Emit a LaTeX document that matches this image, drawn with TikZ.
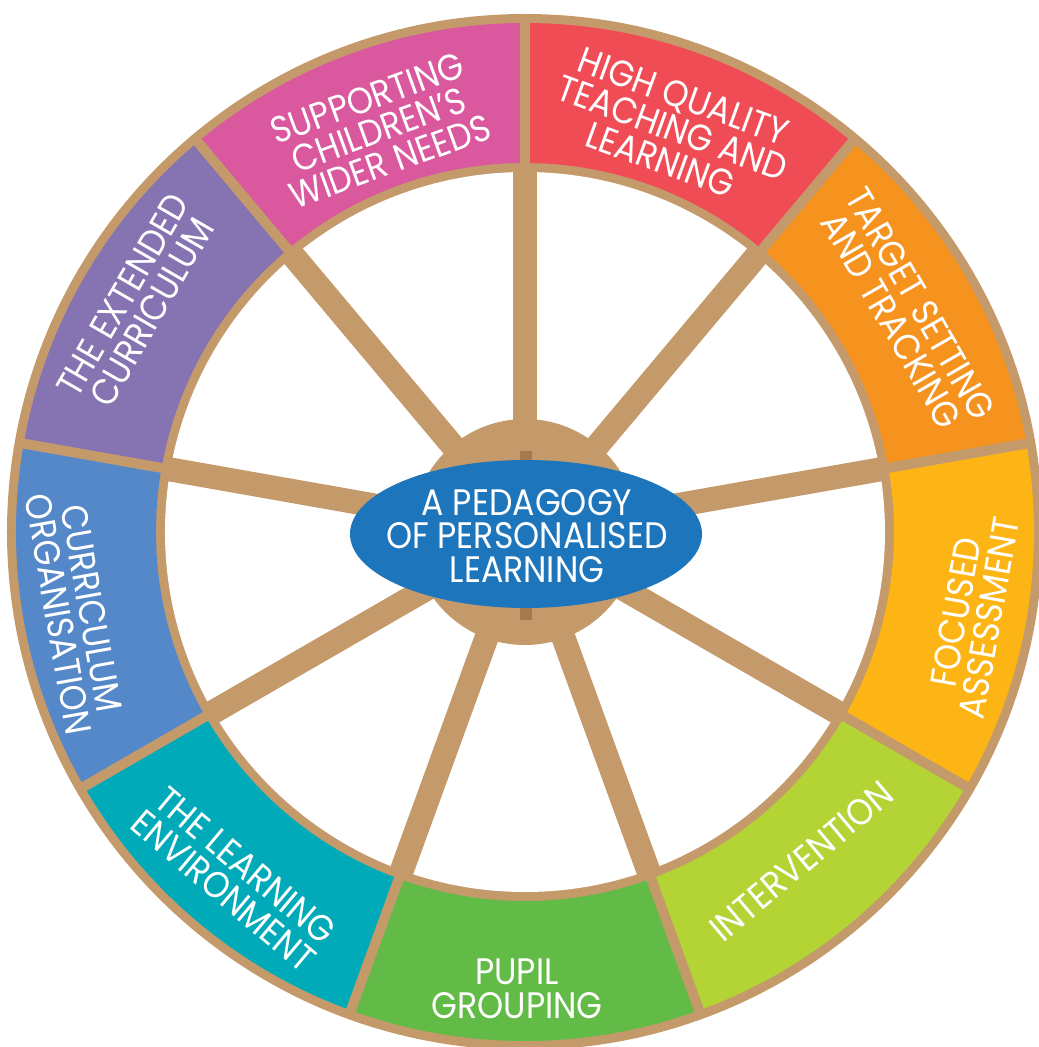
\documentclass[tikz,border=0pt]{standalone}
\usepackage{fontspec}
\setmainfont{Poppins}[FakeStretch=0.9]
\definecolor{wheeltan}{HTML}{C59A6B}
\definecolor{hubmark}{HTML}{A67A4E}
\definecolor{coreblue}{HTML}{1D75BC}
\definecolor{qualityred}{HTML}{EF4C55}
\definecolor{targetorange}{HTML}{F6921E}
\definecolor{focusyellow}{HTML}{FDB515}
\definecolor{interlime}{HTML}{B4D334}
\definecolor{pupilgreen}{HTML}{62BA47}
\definecolor{envteal}{HTML}{00AAB9}
\definecolor{orgblue}{HTML}{5588C8}
\definecolor{extpurple}{HTML}{8673B1}
\definecolor{needspink}{HTML}{D9589E}
\tikzset{
    rim/.style={wheeltan, line width=0.2cm},
    spoke/.style={wheeltan, line width=0.48cm},
    seglabel/.style={text=white, align=center, inner sep=0pt,
        font=\fontsize{21}{19.2}\selectfont}
}

\begin{document}
\begin{tikzpicture}[scale=0.02]
\useasboundingbox (-525,-515) rectangle (514,532);

\fill[wheeltan] (0,0) circle [radius=518];

% coloured segments
\fill[qualityred] (50:369) arc [start angle=50, end angle=90, radius=369] -- (90:509) arc [start angle=90, end angle=50, radius=509] -- cycle;
\fill[targetorange] (10:369) arc [start angle=10, end angle=50, radius=369] -- (50:509) arc [start angle=50, end angle=10, radius=509] -- cycle;
\fill[focusyellow] (-30:369) arc [start angle=-30, end angle=10, radius=369] -- (10:509) arc [start angle=10, end angle=-30, radius=509] -- cycle;
\fill[interlime] (-70:369) arc [start angle=-70, end angle=-30, radius=369] -- (-30:509) arc [start angle=-30, end angle=-70, radius=509] -- cycle;
\fill[pupilgreen] (-110:369) arc [start angle=-110, end angle=-70, radius=369] -- (-70:509) arc [start angle=-70, end angle=-110, radius=509] -- cycle;
\fill[envteal] (-150:369) arc [start angle=-150, end angle=-110, radius=369] -- (-110:509) arc [start angle=-110, end angle=-150, radius=509] -- cycle;
\fill[orgblue] (170:369) arc [start angle=170, end angle=210, radius=369] -- (210:509) arc [start angle=210, end angle=170, radius=509] -- cycle;
\fill[extpurple] (130:369) arc [start angle=130, end angle=170, radius=369] -- (170:509) arc [start angle=170, end angle=130, radius=509] -- cycle;
\fill[needspink] (90:369) arc [start angle=90, end angle=130, radius=369] -- (130:509) arc [start angle=130, end angle=90, radius=509] -- cycle;

\fill[white] (0,0) circle [radius=360];

% dividers between segments
\draw[rim] (90:355) -- (90:513);
\draw[rim] (50:355) -- (50:513);
\draw[rim] (10:355) -- (10:513);
\draw[rim] (-30:355) -- (-30:513);
\draw[rim] (-70:355) -- (-70:513);
\draw[rim] (-110:355) -- (-110:513);
\draw[rim] (-150:355) -- (-150:513);
\draw[rim] (170:355) -- (170:513);
\draw[rim] (130:355) -- (130:513);

% spokes
\draw[spoke] (0,0) -- (90:364);
\draw[spoke] (0,0) -- (50:364);
\draw[spoke] (0,0) -- (10:364);
\draw[spoke] (0,0) -- (-30:364);
\draw[spoke] (0,0) -- (-70:364);
\draw[spoke] (0,0) -- (-110:364);
\draw[spoke] (0,0) -- (-150:364);
\draw[spoke] (0,0) -- (170:364);
\draw[spoke] (0,0) -- (130:364);

% hub
\fill[wheeltan] (0,0) circle [radius=113];
\fill[hubmark] (-5,68) rectangle (7,81);
\fill[hubmark] (-5,-88) rectangle (7,-74);
\fill[coreblue] (1,-2) ellipse [x radius=176, y radius=74];
\node[seglabel] (core) at (2,-4) {A PEDAGOGY\\OF PERSONALISED\\LEARNING};

% segment labels
\node[seglabel, rotate=-20] (quality) at (70:430) {HIGH QUALITY\\TEACHING AND\\LEARNING};
\node[seglabel, rotate=-60] (target) at (30:440) {TARGET SETTING\\AND TRACKING};
\node[seglabel, rotate=80] (focused) at (-10.5:455) {FOCUSED\\ASSESSMENT};
\node[seglabel, rotate=40] (intervention) at (-50:430) {INTERVENTION};
\node[seglabel] (pupil) at (-91:457) {PUPIL\\GROUPING};
\node[seglabel, rotate=-40] (environment) at (-130:452) {THE LEARNING\\ENVIRONMENT};
\node[seglabel, rotate=-80] (organisation) at (190:457) {CURRICULUM\\ORGANISATION};
\node[seglabel, rotate=60] (extended) at (149.5:450) {THE EXTENDED\\CURRICULUM};
\node[seglabel, rotate=20] (needs) at (110:428) {SUPPORTING\\CHILDREN’S\\WIDER NEEDS};
\end{tikzpicture}
\end{document}
